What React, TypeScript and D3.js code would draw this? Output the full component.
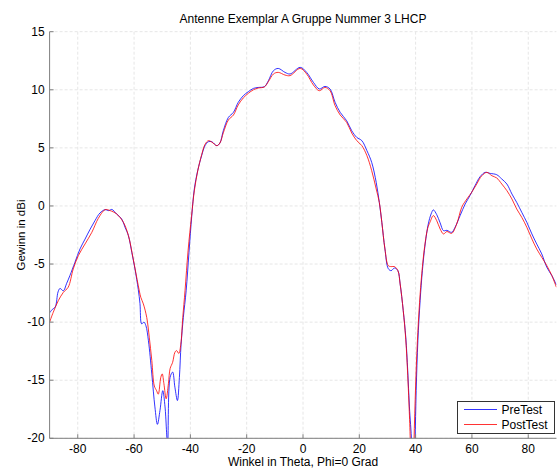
import React from 'react';
import * as d3 from 'd3';

// Gain readings (dBi) over theta (deg), Phi = 0 cut
const preTestAngle = [
  -90, -89, -88, -87, -86.3, -85.1, -84, -82.8, -81, -79.2, -77.4, -75.6, -73.9, -72.1, -70.3, -69, -67.9,
  -66.2, -64.4, -63.2, -62, -60.8, -59.7, -58.5, -57.9, -57.3, -56.5, -55.8, -54.9, -53.7, -52.6, -51.7,
  -50.8, -49.8, -49, -48.1, -47.2, -46.3, -45.5, -44.6, -43.9, -43.3, -42.5, -41.5, -40.5, -39.5, -38.6,
  -37.4, -36, -34.8, -33.6, -32.4, -30.6, -29.5, -28.3, -26.5, -24.7, -23, -21.2, -19.4, -17.6, -15.9,
  -13.7, -12.3, -10.5, -8.8, -6.4, -4.6, -1, 1.3, 3.7, 5.8, 7.8, 9.6, 11.4, 13.2, 15.5, 17.3, 19.1, 20.9,
  22.7, 24.4, 26, 27.1, 28, 29.1, 30.3, 31.3, 32.5, 33.7, 34.5, 35.6, 36.5, 37.2, 37.8, 38.6, 39.2, 39.8,
  40.2, 40.8, 41.6, 42.4, 43.4, 44.5, 45.5, 46.3, 47.5, 48.7, 49.9, 51.1, 52.8, 54, 55.8, 57.6, 59.3,
  61.1, 62.9, 64.7, 66.5, 68.8, 70.6, 72.4, 74.2, 75.9, 77.7, 79.5, 81.3, 83, 84.8, 86.6, 88.4, 90,
];
const preTestGain = [
  -9.2, -8.9, -8.7, -7.4, -7.1, -7.3, -6.7, -6.0, -4.85, -3.7, -2.85, -2.0, -1.27, -0.6, -0.32, -0.4, -0.3,
  -0.69, -1.12, -1.84, -2.56, -4.0, -5.4, -7.2, -8.4, -10.15, -10.0, -10.3, -11.6, -14.46, -17.3, -18.8,
  -17.6, -15.9, -17.3, -20.5, -14.75, -14.3, -15.6, -16.75, -14.75, -11.9, -9.6, -7.3, -4.0, -0.83, 1.46,
  3.04, 4.33, 5.19, 5.53, 5.53, 5.19, 5.42, 6.48, 7.62, 8.06, 8.92, 9.49, 9.84, 10.12, 10.2,
  10.27, 10.78, 11.64, 11.84, 11.5, 11.36, 11.93, 11.5, 10.64, 10.07, 10.29, 10.07, 8.92, 8.06, 7.34, 6.48, 5.9, 5.62,
  4.76, 3.75, 2.03, 0.31, -1.41, -3.7, -5.4, -5.57, -5.34, -5.57, -6.71, -9.0, -11.3, -14.2, -17.3, -20.5, -28, -20.5,
  -15.9, -11.6, -8.15, -5.57, -3.27, -1.55, -0.69, -0.34, -0.75, -1.45, -2.13, -2.1, -2.27, -1.84, -0.83, 0.17, 0.89,
  1.75, 2.52, 2.89, 2.8, 2.69, 2.32, 1.89, 1.03, 0.31, -0.55, -1.41, -2.41, -3.27, -4.13, -5.28, -6.0, -6.8,
];

const postTestAngle = [
  -90, -88.7, -86.9, -85.1, -83.4, -81.6, -79.8, -77.4, -75, -72.7, -70.3, -68.5, -66.2, -63.8, -62, -60.3,
  -58.5, -57.6, -56.7, -55.5, -54.6, -53.7, -52.8, -52, -51.4, -50.5, -50, -49.4, -48.6, -47.8, -47.2,
  -46.3, -45.5, -44.9, -44.1, -43.4, -42.7, -41.9, -40.8, -39.6, -38.6, -37.4, -36, -34.8, -33.6, -32.4,
  -30.6, -29.5, -28.3, -26.5, -24.7, -23, -21.2, -19.4, -17.6, -15.9, -13.7, -12.3, -10.5, -8.8, -6.4,
  -4.6, -1, 1.3, 3.7, 5.8, 7.8, 9.6, 11.4, 13.2, 15.5, 17.3, 19.1, 20.9, 22.7, 24.4, 26, 27.1, 28, 29.1,
  30.3, 31.3, 32.5, 33.7, 34.5, 35.6, 36.5, 37.2, 37.8, 38.2, 38.8, 39.4, 40, 40.6, 41.4, 42.2, 43.2, 44.3,
  45.1, 46.3, 47.5, 48.7, 49.9, 51.1, 52.8, 54.6, 56.4, 58.2, 59.9, 61.7, 63.5, 65.3, 67.1, 68.8, 70.6,
  72.4, 74.2, 75.9, 77.7, 79.5, 81.3, 83, 84.8, 86.6, 88.4, 90,
];
const postTestGain = [
  -10.0, -9.15, -8.15, -7.43, -7.0, -5.42, -4.28, -3.27, -2.27, -1.07, -0.32, -0.4, -0.69, -1.4, -2.56, -4.56,
  -6.86, -7.87, -8.43, -9.6, -11.3, -13.3, -15.5, -15.9, -16.2, -14.75, -14.46, -15.3, -16.6, -15.3, -14.0,
  -13.46, -12.6, -12.45, -12.7, -11.9, -9.6, -7.3, -3.8, -0.9, 1.3, 3.0, 4.4, 5.3, 5.62, 5.5,
  5.19, 5.42, 6.3, 7.4, 7.83, 8.7, 9.3, 9.7, 10.0, 10.15, 10.25, 10.7, 11.36, 11.5, 11.27,
  11.22, 11.84, 11.36, 10.41, 9.92, 10.2, 9.92, 8.63, 7.83, 7.2, 6.28, 5.62, 5.19, 4.33, 3.04, 1.46, 0.31, -1.41, -3.7,
  -5.14, -5.22, -5.22, -5.57, -6.71, -9.0, -11.5, -14.6, -18.0, -21, -28, -20.5, -15.5, -11.8, -8.3, -5.8, -3.5, -1.9,
  -1.4, -0.83, -1.27, -1.98, -2.41, -2.2, -2.36, -1.55, -0.1, 0.6, 1.17, 1.89, 2.6, 2.89, 2.6, 2.41, 1.89,
  1.32, 0.6, -0.26, -0.98, -1.84, -2.84, -3.7, -4.42, -5.14, -6.0, -7.0,
];

const xTicks = [-80, -60, -40, -20, 0, 20, 40, 60, 80];
const yTicks = [-20, -15, -10, -5, 0, 5, 10, 15];
const seriesNames = ['PreTest', 'PostTest'];
const seriesColors = ['#0000ff', '#ff0000'];

const W = 558;
const H = 468;
const m = { left: 49.6, right: 1.6, top: 31.7, bottom: 29.7 };

export default function App() {
  const x = d3.scaleLinear().domain([-90, 90]).range([m.left, W - m.right]);
  const y = d3.scaleLinear().domain([-20, 15]).range([H - m.bottom, m.top]);

  const line = d3
    .line<[number, number]>()
    .x((d) => x(d[0]))
    .y((d) => y(d[1]))
    .curve(d3.curveCatmullRom.alpha(0.5));

  const series = [
    d3.zip(preTestAngle, preTestGain) as [number, number][],
    d3.zip(postTestAngle, postTestGain) as [number, number][],
  ];

  const font = 'Liberation Sans, Arial, sans-serif';
  const x0 = x(-90);
  const x1 = x(90);
  const y0 = y(-20);
  const y1 = y(15);

  return (
    <svg
      width={W}
      height={H}
      style={{ position: 'absolute', left: 0, top: 0, background: '#fff' }}
      fontFamily={font}
    >
      <defs>
        <clipPath id="plot">
          <rect x={x0} y={y1} width={x1 - x0} height={y0 - y1} />
        </clipPath>
      </defs>
      <rect width={W} height={H} fill="#fff" />

      {/* grid */}
      <g stroke="#e6e6e6" strokeWidth={1} strokeDasharray="3,2">
        {xTicks.map((t) => (
          <line key={'gx' + t} x1={x(t)} x2={x(t)} y1={y1} y2={y0} />
        ))}
        {yTicks.map((t) => (
          <line key={'gy' + t} x1={x0} x2={x1} y1={y(t)} y2={y(t)} />
        ))}
      </g>

      {/* curves */}
      <g clipPath="url(#plot)" fill="none" strokeWidth={1}>
        {series.map((s, i) => (
          <path key={i} d={line(s) ?? ''} stroke={seriesColors[i]} strokeOpacity={0.8} />
        ))}
      </g>

      {/* axes */}
      <g stroke="#7f7f7f" strokeWidth={1}>
        <line x1={x0} x2={x0} y1={y1} y2={y0} />
        <line x1={x0} x2={x1} y1={y0} y2={y0} />
        {xTicks.map((t) => (
          <line key={'tx' + t} x1={x(t)} x2={x(t)} y1={y0} y2={y0 - 4} />
        ))}
        {yTicks.map((t) => (
          <line key={'ty' + t} x1={x0} x2={x0 + 4} y1={y(t)} y2={y(t)} />
        ))}
      </g>

      <g fontSize={12} fill="#000">
        {xTicks.map((t) => (
          <text key={'lx' + t} x={x(t)} y={y0 + 15} textAnchor="middle">
            {t}
          </text>
        ))}
        {yTicks.map((t) => (
          <text key={'ly' + t} x={x0 - 5} y={y(t) + 4} textAnchor="end">
            {t}
          </text>
        ))}
      </g>

      <text x={(x0 + x1) / 2} y={23} textAnchor="middle" fontSize={12}>
        Antenne Exemplar A Gruppe Nummer 3 LHCP
      </text>
      <text x={(x0 + x1) / 2} y={466} textAnchor="middle" fontSize={12}>
        Winkel in Theta, Phi=0 Grad
      </text>
      <text
        transform={`translate(24.5, ${(y0 + y1) / 2}) rotate(-90)`}
        textAnchor="middle"
        fontSize={11.5}
      >
        Gewinn in dBi
      </text>

      {/* legend */}
      <g>
        <rect x={457.5} y={401.5} width={97} height={32} fill="#fff" stroke="#333" strokeWidth={1} />
        {seriesNames.map((n, i) => (
          <g key={n}>
            <line
              x1={464}
              x2={497}
              y1={409.5 + i * 15}
              y2={409.5 + i * 15}
              stroke={seriesColors[i]}
              strokeOpacity={0.8}
            />
            <text x={501.5} y={413.5 + i * 15} fontSize={12}>
              {n}
            </text>
          </g>
        ))}
      </g>
    </svg>
  );
}
